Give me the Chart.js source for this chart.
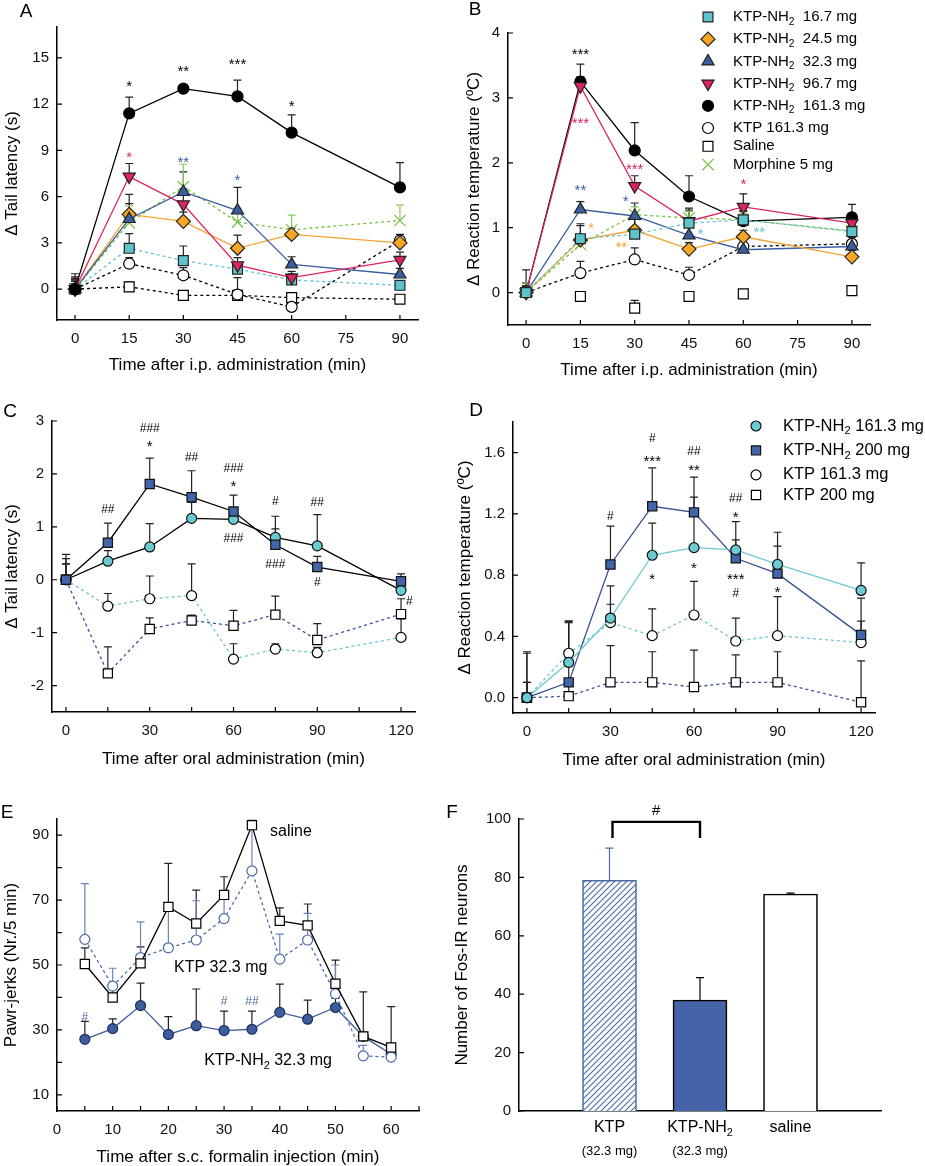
<!DOCTYPE html>
<html>
<head>
<meta charset="utf-8">
<script src="https://cdn.jsdelivr.net/npm/chart.js@4.4.1/dist/chart.umd.min.js"></script>
<style>
  body { margin: 0; background: #fff; }
  #fig { position: relative; width: 925px; height: 1166px; overflow: hidden; }
  #fig canvas { position: absolute; }
</style>
</head>
<body>
<div id="fig"></div>
<script>
const FONT = '"Liberation Sans", Arial, Helvetica, sans-serif';

// ---------- A: Δ tail latency after i.p. ----------
const timeIP = [0, 15, 30, 45, 60, 90];
const ipTicks = [0, 15, 30, 45, 60, 75, 90];
const tailA_nh16 = [0, 2.65, 1.85, 1.3, 0.6, 0.25];
const tailA_nh16_err = [0.6, 0.95, 0.95, 0.3, 0.4, 0.3];
const tailA_nh24 = [0, 4.85, 4.4, 2.65, 3.55, 3.0];
const tailA_nh24_err = [0.7, 1.3, 0.6, 0.85, 0.4, 0.4];
const tailA_nh32 = [0, 4.55, 6.3, 5.1, 1.6, 0.95];
const tailA_nh32_err = [0.8, 1.0, 1.3, 1.5, 0.5, 0.4];
const tailA_nh96 = [0, 7.3, 5.5, 1.55, 0.75, 1.9];
const tailA_nh96_err = [0.6, 0.85, 1.0, 0.5, 0.4, 0.5];
const tailA_nh161 = [0, 11.4, 13.0, 12.5, 10.15, 6.6];
const tailA_nh161_err = [1.0, 1.05, 0.2, 1.05, 1.15, 1.6];
const tailA_ktp161 = [0, 1.65, 0.9, -0.35, -1.15, 3.15];
const tailA_ktp161_err = [0.5, 0.4, 0.5, 1.1, 0.5, 0.4];
const tailA_saline = [0, 0.15, -0.4, -0.4, -0.55, -0.65];
const tailA_saline_err = [0.3, 0.3, 0.3, 0.3, 0.3, 0.3];
const tailA_morph = [0, 4.3, 6.65, 4.35, 3.85, 4.45];
const tailA_morph_err = [0.6, 1.1, 1.45, 0.9, 0.95, 1.0];
const notesA = [[15, 13.3, '*', 'black'], [30, 14.3, '**', 'black'], [45, 14.75, '***', 'black'], [60, 12.0, '*', 'black'],
                [15, 8.7, '*', 'red'], [30, 8.4, '**', 'blue'], [45, 7.2, '*', 'blue']];

// ---------- B: Δ reaction temperature after i.p. ----------
const tempB_nh16 = [0, 0.83, 0.9, 1.07, 1.12, 0.94];
const tempB_nh16_err = [0.15, 0.2, 0.25, 0.2, 0.15, 0.1];
const tempB_nh24 = [0, 0.81, 0.96, 0.67, 0.86, 0.55];
const tempB_nh24_err = [0.1, 0.25, 0.2, 0.1, 0.1, 0.1];
const tempB_nh32 = [0, 1.28, 1.18, 0.88, 0.66, 0.71];
const tempB_nh32_err = [0.1, 0.12, 0.2, 0.15, 0.1, 0.1];
const tempB_nh96 = [0, 3.18, 1.64, 1.1, 1.32, 1.07];
const tempB_nh96_err = [0.15, 0.15, 0.16, 0.2, 0.2, 0.15];
const tempB_nh161 = [0, 3.25, 2.19, 1.48, 1.1, 1.16];
const tempB_nh161_err = [0.35, 0.27, 0.43, 0.32, 0.15, 0.2];
const tempB_ktp161 = [0, 0.3, 0.51, 0.27, 0.71, 0.75];
const tempB_ktp161_err = [0.1, 0.18, 0.18, 0.12, 0.1, 0.1];
const tempB_saline = [0, -0.06, -0.24, -0.06, -0.02, 0.03];
const tempB_saline_err = [0.1, 0.05, 0.12, 0.03, 0.03, 0.03];
const tempB_morph = [0, 0.74, 1.2, 1.15, 1.12, 0.95];
const tempB_morph_err = [0.15, 0.15, 0.12, 0.1, 0.1, 0.1];
const legendB = ['KTP-NH₂  16.7 mg', 'KTP-NH₂  24.5 mg', 'KTP-NH₂  32.3 mg', 'KTP-NH₂  96.7 mg',
                 'KTP-NH₂  161.3 mg', 'KTP 161.3 mg', 'Saline', 'Morphine 5 mg'];
const notesB = [[15, 3.7, '***', 'black'], [15, 2.65, '***', 'red'], [30, 1.94, '***', 'red'], [15, 1.61, '**', 'blue'],
                [27.5, 1.44, '*', 'blue'], [18, 1.03, '*', 'orange'], [26.3, 0.73, '**', 'orange'],
                [48.2, 0.93, '*', 'cyan'], [64.4, 0.97, '**', 'cyan'], [60, 1.7, '*', 'red']];

// ---------- C: Δ tail latency after oral ----------
const timeOral = [0, 15, 30, 45, 60, 75, 90, 120];
const oralTicks = [0, 15, 30, 45, 60, 75, 90, 105, 120];
const oralLabels = [0, 30, 60, 90, 120];
const tailC_nh200 = [0, 0.70, 1.81, 1.56, 1.29, 0.66, 0.24, -0.03];
const tailC_nh200_err = [0.4, 0.37, 0.49, 0.5, 0.31, 0.54, 0.2, 0.14];
const tailC_nh161 = [0, 0.35, 0.62, 1.16, 1.14, 0.8, 0.64, -0.2];
const tailC_nh161_err = [0.48, 0.2, 0.44, 0.3, 0.2, 0.16, 0.59, 0.2];
const tailC_ktp161 = [0, -0.5, -0.36, -0.3, -1.5, -1.31, -1.38, -1.09];
const tailC_ktp161_err = [0.3, 0.24, 0.43, 0.6, 0.29, 0.1, 0.1, 0.35];
const tailC_ktp200 = [0, -1.77, -0.93, -0.77, -0.87, -0.66, -1.14, -0.65];
const tailC_ktp200_err = [0.3, 0.5, 0.21, 0.1, 0.29, 0.35, 0.31, 0.29];
const notesC = [[30, 2.88, '###'], [30, 2.57, '*'], [15, 1.35, '##'], [45, 2.33, '##'], [60, 2.13, '###'], [60, 1.8, '*'],
                [60, 0.8, '###'], [75, 1.5, '#'], [75, 0.31, '###'], [90, 1.47, '##'], [90, -0.04, '#'], [123, -0.39, '#']];

// ---------- D: Δ reaction temperature after oral ----------
const tempD_nh161 = [0, 0.23, 0.52, 0.93, 0.98, 0.965, 0.87, 0.70];
const tempD_nh161_err = [0.3, 0.27, 0.21, 0.21, 0.33, 0.065, 0.21, 0.18];
const tempD_nh200 = [0, 0.10, 0.87, 1.25, 1.21, 0.91, 0.81, 0.41];
const tempD_nh200_err = [0.1, 0.4, 0.25, 0.25, 0.23, 0.24, 0.18, 0.24];
const tempD_ktp161 = [0, 0.29, 0.49, 0.405, 0.54, 0.37, 0.405, 0.36];
const tempD_ktp161_err = [0.29, 0.2, 0.12, 0.175, 0.22, 0.15, 0.255, 0.14];
const tempD_ktp200 = [0, 0.01, 0.1, 0.1, 0.07, 0.1, 0.1, -0.03];
const tempD_ktp200_err = [0.1, 0.1, 0.24, 0.2, 0.24, 0.18, 0.2, 0.27];
const legendD = ['KTP-NH₂ 161.3 mg', 'KTP-NH₂ 200 mg', 'KTP 161.3 mg', 'KTP 200 mg'];
const notesD = [[30, 1.19, '#'], [45, 1.70, '#'], [45, 1.56, '***'], [60, 1.615, '##'], [60, 1.5, '**'], [75, 1.31, '##'],
                [75, 1.19, '*'], [45, 0.79, '*'], [60, 0.86, '*'], [75, 0.79, '***'], [75, 0.69, '#'], [90, 0.70, '*']];

// ---------- E: formalin pawr-jerks ----------
const timeE = [5, 10, 15, 20, 25, 30, 35, 40, 45, 50, 55, 60];
const jerksE_saline = [50.3, 40.0, 50.5, 67.9, 62.8, 71.6, 93.1, 63.6, 62.2, 44.2, 28.0, 24.6];
const jerksE_saline_err = [5.0, 3.0, 5.1, 13.4, 10.3, 5.6, 1.5, 4.0, 6.6, 7.3, 13.7, 12.6];
const jerksE_ktp = [57.9, 43.5, 52.3, 55.3, 57.7, 64.3, 79.0, 51.8, 57.7, 41.1, 22.0, 21.6];
const jerksE_ktp_err = [17.2, 5.5, 11.0, 12.5, 12.1, 8.5, 14.5, 7.7, 8.2, 8.9, 3.2, 1.5];
const jerksE_nh2 = [27.1, 30.4, 37.5, 28.6, 31.3, 29.8, 30.2, 35.4, 33.3, 36.9, 28.0, 22.5];
const jerksE_nh2_err = [5.5, 3.0, 6.9, 5.5, 11.3, 6.0, 5.6, 8.7, 5.9, 2.8, 1.0, 1.0];
const labelsE = [['saline', 42, 91], ['KTP 32.3 mg', 29.4, 49.2], ['KTP-NH₂ 32.3 mg', 37.9, 20.5]];
const notesE = [[5, 34.1, '#', 'eblue'], [30, 39.2, '#', 'eblue'], [35, 39, '##', 'eblue']];

// ---------- F: Fos-IR neurons ----------
const fosGroups = ['KTP', 'KTP-NH₂', 'saline'];
const fosDose = ['(32.3 mg)', '(32.3 mg)', ''];
const fosMean = [79, 38, 74.3];
const fosSem = [11, 7.7, 0.3];

const INK = {black: '#000', red: '#dd2360', blue: '#3b5e9f', orange: '#f2a432', cyan: '#5ec3cd', eblue: '#4a6aa8'};

const ST = {
  nh16:   {pointStyle: 'rect', r: 7, fill: '#5ec3cd', stroke: '#222', line: '#5ec3cd', dash: [3, 3]},
  nh24:   {pointStyle: 'rectRot', r: 7, fill: '#f6a623', stroke: '#222', line: '#f2a432'},
  nh32:   {pointStyle: 'triangle', r: 7, fill: '#3b5e9f', stroke: '#222', line: '#3b5e9f'},
  nh96:   {pointStyle: 'triangle', rot: 180, r: 7, fill: '#dd2360', stroke: '#222', line: '#dd2360'},
  nh161:  {pointStyle: 'circle', r: 5.5, fill: '#000', stroke: '#000', line: '#000'},
  ktp161: {pointStyle: 'circle', r: 5.5, fill: '#fff', stroke: '#000', line: '#000', dash: [3, 3]},
  saline: {pointStyle: 'rect', r: 7, fill: '#fff', stroke: '#000', line: '#000', dash: [3, 3]},
  morph:  {pointStyle: 'crossRot', r: 8, fill: '#76c043', stroke: '#76c043', line: '#76c043', dash: [3, 3], err: '#8acb5a'},
  // oral panels
  cNh200: {pointStyle: 'rect', r: 6.5, fill: '#4264a8', stroke: '#111', line: '#000'},
  cNh161: {pointStyle: 'circle', r: 5, fill: '#6ccbd2', stroke: '#111', line: '#000'},
  cKtp161:{pointStyle: 'circle', r: 5, fill: '#fff', stroke: '#000', line: '#6cc8d0', dash: [3, 3]},
  cKtp200:{pointStyle: 'rect', r: 6.5, fill: '#fff', stroke: '#000', line: '#3a5590', dash: [3, 3]},
  dNh161: {pointStyle: 'circle', r: 5, fill: '#6ccbd2', stroke: '#111', line: '#6ccad0'},
  dNh200: {pointStyle: 'rect', r: 6.5, fill: '#4264a8', stroke: '#111', line: '#35508f'},
  // formalin
  eSal:   {pointStyle: 'rect', r: 6.5, fill: '#fff', stroke: '#000', line: '#000'},
  eKtp:   {pointStyle: 'circle', r: 5, fill: '#fff', stroke: '#4a6aa8', line: '#4a6aa8', dash: [3, 3], err: '#6b86ba'},
  eNh2:   {pointStyle: 'circle', r: 5, fill: '#3f5c9e', stroke: '#1d2f5a', line: '#3f5c9e'}
};

function series(label, xs, ys, errs, st, noLine) {
  return {
    label: label,
    data: xs.map((x, i) => ({x: x, y: ys[i]})),
    errors: errs,
    errColor: st.err || '#222',
    st: st,
    borderColor: st.line, borderWidth: 1.3, borderDash: st.dash || [],
    pointStyle: st.pointStyle, pointRadius: st.r, pointRotation: st.rot || 0,
    pointBackgroundColor: st.fill, pointBorderColor: st.stroke, pointBorderWidth: 1.2,
    showLine: !noLine, fill: false, tension: 0
  };
}

// text with a subscript "₂"
function rich(ctx, str, x, y, size, align, color) {
  const segs = [];
  str.split('₂').forEach((t, i, arr) => {
    segs.push({t: t, s: size, dy: 0});
    if (i < arr.length - 1) segs.push({t: '2', s: size * 0.68, dy: size * 0.32});
  });
  let w = 0;
  segs.forEach(g => { ctx.font = g.s + 'px ' + FONT; g.w = ctx.measureText(g.t).width; w += g.w; });
  let cx = align === 'center' ? x - w / 2 : (align === 'right' ? x - w : x);
  ctx.fillStyle = color || '#000';
  ctx.textAlign = 'left';
  ctx.textBaseline = 'middle';
  segs.forEach(g => { ctx.font = g.s + 'px ' + FONT; ctx.fillText(g.t, cx, y + g.dy); cx += g.w; });
}

// star / hash marks centred on their ink
function mark(ctx, str, x, y, color, sz) {
  const size = sz || (str.includes('#') ? 12 : 15);
  ctx.font = size + 'px ' + FONT;
  ctx.textAlign = 'center';
  ctx.textBaseline = 'alphabetic';
  const m = ctx.measureText(str);
  ctx.fillStyle = color;
  ctx.fillText(str, x, y + (m.actualBoundingBoxAscent - m.actualBoundingBoxDescent) / 2);
}

function axis(s, dir, size) {
  return {
    type: s.type || 'linear',
    min: s.min, max: s.max, offset: false,
    grid: {display: false, drawTicks: false},
    border: {display: true, color: '#000', width: 1.5},
    ticks: {
      font: {family: FONT, size: 15}, color: '#111', padding: dir === 'x' ? 10 : 8,
      maxRotation: 0, autoSkip: false,
      callback: v => (s.labels && s.labels.includes(v)) ? (s.fmt ? s.fmt(v) : String(v)) : ''
    },
    afterBuildTicks: sc => { if (s.ticks) sc.ticks = s.ticks.map(v => ({value: v})); },
    afterFit: sc => {
      if (dir === 'x') sc.height = size; else sc.width = size;
      sc.paddingLeft = sc.paddingRight = sc.paddingTop = sc.paddingBottom = 0;
    }
  };
}

function decor(p) {
  return {
    id: 'decor',
    beforeDatasetsDraw(chart) {
      const ctx = chart.ctx, ys = chart.scales.y;
      chart.data.datasets.forEach((ds, di) => {
        if (!ds.errors) return;
        const meta = chart.getDatasetMeta(di);
        ds.errors.forEach((e, i) => {
          const d = ds.data[i];
          const v = (d !== null && typeof d === 'object') ? d.y : d;
          const el = meta.data[i];
          if (e == null || v == null || !el) return;
          const x = el.x, y0 = ys.getPixelForValue(v), y1 = ys.getPixelForValue(v + e);
          ctx.save();
          ctx.strokeStyle = Array.isArray(ds.errColor) ? ds.errColor[i] : ds.errColor;
          ctx.lineWidth = 1.2;
          ctx.beginPath();
          ctx.moveTo(x, y0); ctx.lineTo(x, y1);
          ctx.moveTo(x - 4, y1); ctx.lineTo(x + 4, y1);
          ctx.stroke();
          ctx.restore();
        });
      });
    },
    afterDraw(chart) {
      const ctx = chart.ctx, xs = chart.scales.x, ys = chart.scales.y, a = chart.chartArea;
      const ox = p.box[0], oy = p.box[1];
      ctx.save();
      // inward tick marks
      ctx.strokeStyle = '#000';
      ctx.lineWidth = 1.2;
      ctx.beginPath();
      if (p.x.inner !== false) xs.ticks.forEach(t => {
        const px = xs.getPixelForValue(t.value);
        ctx.moveTo(px, a.bottom); ctx.lineTo(px, a.bottom - 5);
      });
      ys.ticks.forEach(t => {
        const py = ys.getPixelForValue(t.value);
        ctx.moveTo(a.left, py); ctx.lineTo(a.left + 5, py);
      });
      ctx.stroke();
      // significance marks
      (p.notes || []).forEach(n => mark(ctx, n[2], xs.getPixelForValue(n[0]), ys.getPixelForValue(n[1]), INK[n[3] || 'black']));
      // in-plot labels
      (p.labels || []).forEach(l => rich(ctx, l[0], xs.getPixelForValue(l[1]), ys.getPixelForValue(l[2]), 16, 'center'));
      // titles
      if (p.xTitle) rich(ctx, p.xTitle[0], p.xTitle[1] - ox, p.xTitle[2] - oy, 17, 'center');
      if (p.yTitle) {
        ctx.save();
        ctx.translate(p.yTitle[1] - ox, p.yTitle[2] - oy);
        ctx.rotate(-Math.PI / 2);
        rich(ctx, p.yTitle[0], 0, 0, 17, 'center');
        ctx.restore();
      }
      if (p.letter) rich(ctx, p.letter[0], p.letter[1] - ox, p.letter[2] - oy, 19, 'center');
      // legend
      if (p.legend) {
        const L = p.legend;
        let y = L.y - oy;
        chart.data.datasets.forEach(ds => {
          const st = ds.st;
          ctx.fillStyle = st.fill;
          ctx.strokeStyle = st.stroke;
          ctx.lineWidth = 1.2;
          ctx.setLineDash([]);
          Chart.helpers.drawPoint(ctx, {pointStyle: st.pointStyle, rotation: st.rot || 0, radius: st.r, borderWidth: 1.2},
                                  L.mx - ox, y);
          rich(ctx, ds.label, L.tx - ox, y, L.size, 'left');
          y += ds.label.includes('₂') ? L.size * 1.48 : L.size * 1.22;
        });
      }
      if (p.extra) p.extra(chart, ctx);
      ctx.restore();
    }
  };
}

const fig = document.getElementById('fig');

function panel(p) {
  const cv = document.createElement('canvas');
  const [bx, by, bw, bh] = p.box;
  const [l, t, r, b] = p.area;
  cv.width = bw; cv.height = bh;
  cv.style.left = bx + 'px'; cv.style.top = by + 'px';
  cv.style.width = bw + 'px'; cv.style.height = bh + 'px';
  fig.appendChild(cv);
  return new Chart(cv, {
    type: p.type || 'line',
    data: {labels: p.cats, datasets: p.datasets},
    options: {
      responsive: false, animation: false, devicePixelRatio: 1, events: [],
      layout: {autoPadding: false, padding: {left: 0, top: t - by, right: bx + bw - r, bottom: 0}},
      plugins: {legend: {display: false}, tooltip: {enabled: false}},
      scales: {x: axis(p.x, 'x', by + bh - b), y: axis(p.y, 'y', l - bx)}
    },
    plugins: [decor(p)]
  });
}

// A
panel({
  box: [0, 0, 460, 380], area: [57, 27, 418, 320],
  x: {min: -5, max: 95, ticks: ipTicks, labels: ipTicks},
  y: {min: -2, max: 17, ticks: [0, 3, 6, 9, 12, 15], labels: [0, 3, 6, 9, 12, 15]},
  datasets: [
    series('KTP-NH₂ 161.3 mg', timeIP, tailA_nh161, tailA_nh161_err, ST.nh161),
    series('KTP-NH₂ 96.7 mg', timeIP, tailA_nh96, tailA_nh96_err, ST.nh96),
    series('KTP-NH₂ 32.3 mg', timeIP, tailA_nh32, tailA_nh32_err, ST.nh32),
    series('KTP-NH₂ 24.5 mg', timeIP, tailA_nh24, tailA_nh24_err, ST.nh24),
    series('Morphine 5 mg', timeIP, tailA_morph, tailA_morph_err, ST.morph),
    series('KTP-NH₂ 16.7 mg', timeIP, tailA_nh16, tailA_nh16_err, ST.nh16),
    series('KTP 161.3 mg', timeIP, tailA_ktp161, tailA_ktp161_err, ST.ktp161),
    series('Saline', timeIP, tailA_saline, tailA_saline_err, ST.saline)
  ],
  notes: notesA,
  letter: ['A', 26, 12],
  xTitle: ['Time after i.p. administration (min)', 237.5, 365],
  yTitle: ['Δ Tail latency (s)', 12, 173.5]
});

// B
const keysB = ['nh16', 'nh24', 'nh32', 'nh96', 'nh161', 'ktp161', 'saline', 'morph'];
const valsB = [tempB_nh16, tempB_nh24, tempB_nh32, tempB_nh96, tempB_nh161, tempB_ktp161, tempB_saline, tempB_morph];
const errsB = [tempB_nh16_err, tempB_nh24_err, tempB_nh32_err, tempB_nh96_err, tempB_nh161_err, tempB_ktp161_err, tempB_saline_err, tempB_morph_err];
panel({
  box: [460, 0, 465, 380], area: [508, 33, 870, 325],
  x: {min: -5, max: 95, ticks: ipTicks, labels: ipTicks},
  y: {min: -0.5, max: 4, ticks: [0, 1, 2, 3, 4], labels: [0, 1, 2, 3, 4]},
  datasets: keysB.map((k, i) => series(legendB[i], timeIP, valsB[i], errsB[i], ST[k], k === 'saline')),
  notes: notesB,
  letter: ['B', 475, 10],
  xTitle: ['Time after i.p. administration (min)', 689, 370],
  yTitle: ['Δ Reaction temperature (ºC)', 474, 179],
  legend: {mx: 708, tx: 733, y: 17, size: 15}
});

// C
panel({
  box: [0, 380, 460, 400], area: [52, 421, 415, 712],
  x: {min: -5, max: 125, ticks: oralTicks, labels: oralLabels},
  y: {min: -2.5, max: 3, ticks: [-2, -1, 0, 1, 2, 3], labels: [-2, -1, 0, 1, 2, 3]},
  datasets: [
    series('KTP-NH₂ 200 mg', timeOral, tailC_nh200, tailC_nh200_err, ST.cNh200),
    series('KTP-NH₂ 161.3 mg', timeOral, tailC_nh161, tailC_nh161_err, ST.cNh161),
    series('KTP 161.3 mg', timeOral, tailC_ktp161, tailC_ktp161_err, ST.cKtp161),
    series('KTP 200 mg', timeOral, tailC_ktp200, tailC_ktp200_err, ST.cKtp200)
  ],
  notes: notesC,
  letter: ['C', 10, 412],
  xTitle: ['Time after oral administration (min)', 233.5, 759],
  yTitle: ['Δ Tail latency (s)', 12, 566.5]
});

// D
panel({
  box: [455, 380, 470, 400], area: [513, 422, 875, 713],
  x: {min: -5, max: 125, ticks: oralTicks, labels: oralLabels},
  y: {min: -0.1, max: 1.8, ticks: [0, 0.4, 0.8, 1.2, 1.6], labels: [0, 0.4, 0.8, 1.2, 1.6], fmt: v => v.toFixed(1)},
  datasets: [
    series(legendD[0], timeOral, tempD_nh161, tempD_nh161_err, ST.dNh161),
    series(legendD[1], timeOral, tempD_nh200, tempD_nh200_err, ST.dNh200),
    series(legendD[2], timeOral, tempD_ktp161, tempD_ktp161_err, ST.cKtp161),
    series(legendD[3], timeOral, tempD_ktp200, tempD_ktp200_err, ST.cKtp200)
  ],
  notes: notesD,
  letter: ['D', 476, 411],
  xTitle: ['Time after oral administration (min)', 694, 760],
  yTitle: ['Δ Reaction temperature (ºC)', 465, 567.5],
  legend: {mx: 756, tx: 783, y: 426, size: 16.5}
});

// E
panel({
  box: [0, 780, 460, 386], area: [57, 819, 419, 1111],
  x: {min: 0, max: 65, ticks: [0, 5, 10, 15, 20, 25, 30, 35, 40, 45, 50, 55, 60, 65], labels: [0, 10, 20, 30, 40, 50, 60]},
  y: {min: 5, max: 95, ticks: [10, 20, 30, 40, 50, 60, 70, 80, 90], labels: [10, 30, 50, 70, 90]},
  datasets: [
    series('saline', timeE, jerksE_saline, jerksE_saline_err, ST.eSal),
    series('KTP 32.3 mg', timeE, jerksE_ktp, jerksE_ktp_err, ST.eKtp),
    series('KTP-NH₂ 32.3 mg', timeE, jerksE_nh2, jerksE_nh2_err, ST.eNh2)
  ],
  notes: notesE,
  labels: labelsE,
  letter: ['E', 7, 813],
  xTitle: ['Time after s.c. formalin injection (min)', 238, 1157],
  yTitle: ['Pawr-jerks (Nr./5 min)', 11, 965]
});

// F
const hatch = document.createElement('canvas');
hatch.width = 6; hatch.height = 6;
(function () {
  const h = hatch.getContext('2d');
  h.fillStyle = '#fff'; h.fillRect(0, 0, 6, 6);
  h.strokeStyle = '#4a6aa5'; h.lineWidth = 1.1;
  h.beginPath();
  h.moveTo(-1, 7); h.lineTo(7, -1);
  h.moveTo(-4, 4); h.lineTo(4, -4);
  h.moveTo(2, 10); h.lineTo(10, 2);
  h.stroke();
})();
const hatchPattern = hatch.getContext('2d').createPattern(hatch, 'repeat');

panel({
  type: 'bar',
  box: [440, 780, 485, 386], area: [519, 819, 881, 1111],
  cats: ['', ...fosGroups, ''],
  x: {type: 'category', inner: false, labels: []},
  y: {min: 0, max: 100, ticks: [0, 20, 40, 60, 80, 100], labels: [0, 20, 40, 60, 80, 100]},
  datasets: [{
    label: 'Fos-IR',
    data: [null, ...fosMean, null],
    errors: [null, ...fosSem, null],
    errColor: ['#000', '#4a6aa5', '#000', '#000', '#000'],
    backgroundColor: ['#fff', hatchPattern, '#4564a7', '#fff', '#fff'],
    borderColor: ['#000', '#4a6aa5', '#000', '#000', '#000'],
    borderWidth: 1.6, borderSkipped: 'bottom', barThickness: 54
  }],
  letter: ['F', 452, 813],
  yTitle: ['Number of Fos-IR neurons', 462, 965],
  extra: (chart, ctx) => {
    const xs = chart.scales.x, ys = chart.scales.y;
    fosGroups.forEach((g, i) => {
      const x = xs.getPixelForValue(i + 1);
      rich(ctx, g, x, 1128 - 780, 16, 'center');
      if (fosDose[i]) rich(ctx, fosDose[i], x, 1151 - 780, 13, 'center');
    });
    // significance bracket KTP vs KTP-NH2
    const x1 = xs.getPixelForValue(1) + 3, x2 = xs.getPixelForValue(2);
    const yt = ys.getPixelForValue(99), yb = ys.getPixelForValue(93.5);
    ctx.strokeStyle = '#000';
    ctx.lineWidth = 2.4;
    ctx.beginPath();
    ctx.moveTo(x1, yb); ctx.lineTo(x1, yt); ctx.lineTo(x2, yt); ctx.lineTo(x2, yb);
    ctx.stroke();
    mark(ctx, '#', (x1 + x2) / 2, ys.getPixelForValue(103), '#000', 15);
  }
});
</script>
</body>
</html>
